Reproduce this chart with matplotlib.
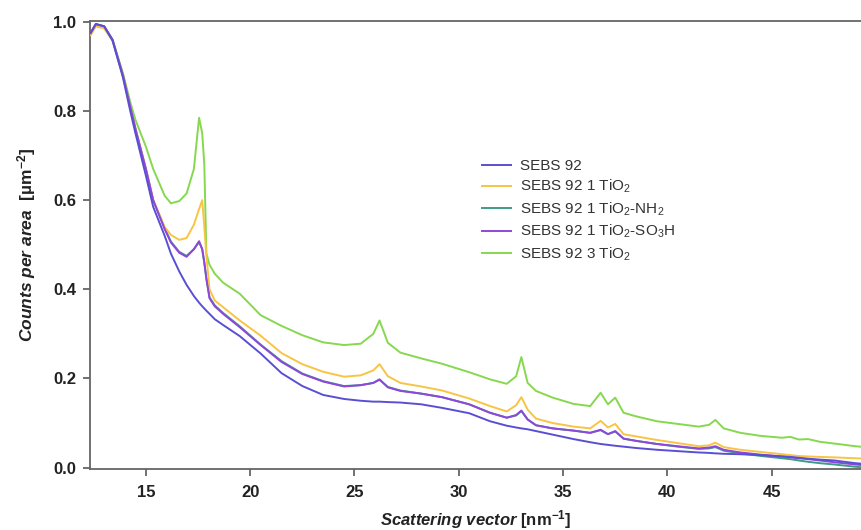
import matplotlib
matplotlib.use("Agg")
import matplotlib.pyplot as plt

# Streuvektor (nm^-1) - gemeinsames Raster
q = [12.35, 12.6, 13.0, 13.4, 13.9, 14.25, 14.5, 15.0, 15.35, 15.9, 16.2, 16.6, 16.95,
     17.3, 17.55, 17.7, 17.8, 17.9, 18.05, 18.3, 18.7, 19.5, 20.5, 21.5, 22.5, 23.5,
     24.5, 25.3, 25.9, 26.2, 26.6, 27.2, 28.2, 29.2, 30.5, 31.5, 32.3, 32.75, 33.0,
     33.3, 33.7, 34.5, 35.5, 36.3, 36.8, 37.15, 37.5, 37.9, 38.5, 39.5, 40.5, 41.5,
     42.0, 42.3, 42.7, 43.5, 44.5, 45.5, 45.9, 46.3, 46.75, 47.3, 48.0, 49.0, 49.5]

sebs92 = [0.975, 0.995, 0.99, 0.958, 0.875, 0.80, 0.75, 0.655, 0.585, 0.52, 0.48, 0.44, 0.41,
          0.385, 0.37, 0.362, 0.357, 0.352, 0.345, 0.333, 0.32, 0.295, 0.256, 0.212, 0.183, 0.163,
          0.154, 0.150, 0.148, 0.148, 0.147, 0.146, 0.142, 0.134, 0.122, 0.104, 0.094, 0.090, 0.088,
          0.086, 0.082, 0.074, 0.064, 0.057, 0.053, 0.051, 0.049, 0.047, 0.044, 0.040, 0.037, 0.034,
          0.033, 0.032, 0.031, 0.030, 0.028, 0.025, 0.024, 0.022, 0.020, 0.018, 0.016, 0.010, 0.008]

tio2_1 = [0.97, 0.99, 0.985, 0.958, 0.88, 0.81, 0.76, 0.67, 0.60, 0.54, 0.522, 0.511, 0.515,
          0.545, 0.58, 0.60, 0.54, 0.475, 0.40, 0.375, 0.36, 0.33, 0.296, 0.257, 0.232, 0.215,
          0.204, 0.207, 0.218, 0.232, 0.205, 0.19, 0.182, 0.173, 0.155, 0.138, 0.126, 0.14, 0.158,
          0.13, 0.11, 0.10, 0.092, 0.088, 0.105, 0.09, 0.098, 0.075, 0.07, 0.062, 0.055, 0.048,
          0.050, 0.056, 0.046, 0.040, 0.035, 0.030, 0.028, 0.026, 0.025, 0.024, 0.023, 0.021, 0.020]

tio2_nh2 = [0.975, 0.995, 0.99, 0.96, 0.88, 0.81, 0.76, 0.67, 0.60, 0.537, 0.507, 0.484, 0.475,
            0.49, 0.506, 0.49, 0.46, 0.425, 0.382, 0.364, 0.347, 0.317, 0.276, 0.239, 0.211, 0.194,
            0.183, 0.185, 0.19, 0.197, 0.181, 0.173, 0.166, 0.158, 0.142, 0.123, 0.112, 0.117, 0.127,
            0.108, 0.095, 0.088, 0.083, 0.078, 0.084, 0.075, 0.081, 0.065, 0.06, 0.053, 0.047, 0.042,
            0.043, 0.046, 0.038, 0.032, 0.026, 0.021, 0.019, 0.016, 0.013, 0.010, 0.007, 0.002, 0.0]

tio2_so3h = [0.975, 0.995, 0.99, 0.96, 0.88, 0.81, 0.76, 0.67, 0.60, 0.535, 0.505, 0.482, 0.473,
             0.49, 0.508, 0.49, 0.46, 0.423, 0.38, 0.362, 0.345, 0.315, 0.275, 0.237, 0.21, 0.193,
             0.182, 0.185, 0.19, 0.198, 0.18, 0.172, 0.166, 0.158, 0.142, 0.123, 0.112, 0.118, 0.128,
             0.108, 0.095, 0.088, 0.083, 0.078, 0.085, 0.075, 0.082, 0.065, 0.06, 0.053, 0.048, 0.043,
             0.045, 0.048, 0.04, 0.034, 0.029, 0.025, 0.023, 0.021, 0.019, 0.016, 0.012, 0.007, 0.005]

tio2_3 = [0.975, 0.995, 0.99, 0.96, 0.885, 0.82, 0.78, 0.72, 0.67, 0.61, 0.593, 0.598, 0.615,
          0.67, 0.785, 0.75, 0.68, 0.48, 0.455, 0.435, 0.415, 0.39, 0.342, 0.318, 0.297, 0.281,
          0.275, 0.278, 0.30, 0.33, 0.28, 0.258, 0.245, 0.233, 0.214, 0.198, 0.188, 0.205, 0.248,
          0.19, 0.172, 0.157, 0.143, 0.138, 0.168, 0.142, 0.157, 0.123, 0.115, 0.104, 0.098, 0.092,
          0.096, 0.107, 0.088, 0.078, 0.071, 0.067, 0.069, 0.063, 0.064, 0.058, 0.054, 0.048, 0.046]

labels = ['SEBS 92', r'SEBS 92 1 TiO$_2$', r'SEBS 92 1 TiO$_2$-NH$_2$',
          r'SEBS 92 1 TiO$_2$-SO$_3$H', r'SEBS 92 3 TiO$_2$']
colors = ['#5a4fd2', '#f8c443', '#3e9c84', '#9046dc', '#86d84f']
series = [sebs92, tio2_1, tio2_nh2, tio2_so3h, tio2_3]

plt.rcParams.update({
    'font.family': 'Liberation Sans',
    'mathtext.fontset': 'custom',
    'mathtext.rm': 'Liberation Sans',
    'mathtext.it': 'Liberation Sans:italic',
    'mathtext.bf': 'Liberation Sans:bold',
    'mathtext.bfit': 'Liberation Sans:italic:bold',
})

fig = plt.figure(figsize=(8.62, 5.30), dpi=100)
ax = fig.add_axes([90 / 862, 61.5 / 530, 1 - 90 / 862, 447.5 / 530])

zorders = [5, 3, 2, 4, 1]
for y, lab, c, z in zip(series, labels, colors, zorders):
    ax.plot(q, y, color=c, lw=1.4, label=lab, zorder=z)

ax.set_xlim(12.32, 49.33)
ax.set_ylim(-0.002, 1.002)
ax.set_xticks([15, 20, 25, 30, 35, 40, 45])
ax.set_yticks([0.0, 0.2, 0.4, 0.6, 0.8, 1.0])
ax.set_yticklabels(['0.0', '0.2', '0.4', '0.6', '0.8', '1.0'])

for s in ['left', 'bottom', 'top']:
    ax.spines[s].set_color('#666666')
    ax.spines[s].set_linewidth(1.3)
ax.spines['right'].set_visible(False)
ax.tick_params(direction='out', length=5, width=1.3, color='#666666',
               labelsize=12, labelcolor='#222222')
ax.tick_params(axis='x', pad=7)
ax.tick_params(axis='y', pad=5)
for t in ax.get_xticklabels() + ax.get_yticklabels():
    t.set_fontweight('bold')

ax.set_xlabel(r'$\mathbfit{Scattering\ vector}\ \mathbf{[nm^{-1}]}$', fontsize=12,
              color='#222222', labelpad=6)
ax.set_ylabel(r'$\mathbfit{Counts\ per\ area}\ \ \mathbf{[µm^{-2}]}$', fontsize=12.5,
              color='#222222', labelpad=11)

leg = ax.legend(loc='upper left', bbox_to_anchor=(482 / 862, 1 - 159 / 530),
                bbox_transform=fig.transFigure, frameon=False, fontsize=11,
                handlelength=1.9, handletextpad=0.6, labelspacing=0.33,
                borderpad=0, borderaxespad=0)
for t in leg.get_texts():
    t.set_color('#333333')

fig.savefig('out.png', dpi=100)
